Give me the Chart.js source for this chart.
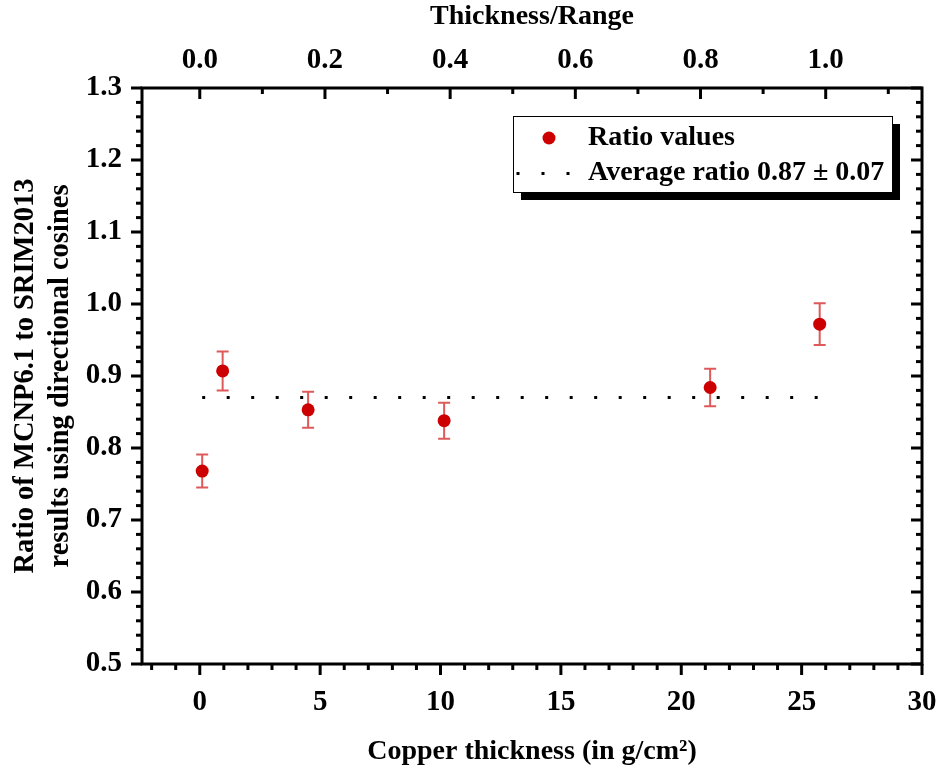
<!DOCTYPE html>
<html>
<head>
<meta charset="utf-8">
<script src="https://cdn.jsdelivr.net/npm/chart.js@4.4.1/dist/chart.umd.min.js"></script>
<style>
  html, body { margin: 0; padding: 0; background: #fff; }
  canvas { display: block; }
</style>
</head>
<body>
<canvas id="chart" width="942" height="776"></canvas>
<script>
// ==================== DATOS ====================
const thickness = [0.1, 0.95, 4.5, 10.15, 21.2, 25.75];     // g/cm2
const ratio     = [0.768, 0.907, 0.853, 0.838, 0.884, 0.972];
const ratioErr  = [0.023, 0.027, 0.025, 0.025, 0.026, 0.029];

const avgRatio = 0.87;
const avgRange = [0.1, 25.7];          // extremos de la linea punteada

const rangeCu = 26;                    // g/cm2 que corresponden a Thickness/Range = 1
const xTicks = [0, 5, 10, 15, 20, 25, 30];
const yTicks = [0.5, 0.6, 0.7, 0.8, 0.9, 1.0, 1.1, 1.2, 1.3];
const topTicks = [0.0, 0.2, 0.4, 0.6, 0.8, 1.0];

const xMin = -2.4, xMax = 30;
const yMin = 0.5, yMax = 1.3;

const labelRatio = 'Ratio values';
const labelAvg = 'Average ratio 0.87 \u00b1 0.07';

// ==================== ESTILO ====================
const FONT = 'Liberation Serif';
const RED = '#cc0000';
const fontTick = { family: FONT, size: 29, weight: 'bold', lineHeight: 1.2 };
const fontTitle = { family: FONT, size: 28, weight: 'bold', lineHeight: 1.2 };

// ==================== PLUGINS ====================
function tickValues(min, max, step) {
  const out = [];
  for (let k = Math.ceil(min / step - 1e-9); k <= Math.floor(max / step + 1e-9); k++) out.push(k * step);
  return out;
}

const frameTicks = {
  id: 'frameTicks',
  afterDraw(chart) {
    const { ctx, chartArea: a, scales } = chart;
    ctx.save();
    ctx.strokeStyle = '#000';
    ctx.lineWidth = 3;
    ctx.lineCap = 'butt';

    const seg = (x1, y1, x2, y2) => { ctx.beginPath(); ctx.moveTo(x1, y1); ctx.lineTo(x2, y2); ctx.stroke(); };

    // abajo (hacia fuera)
    tickValues(xMin, xMax, 1).forEach(v => {
      const px = scales.x.getPixelForValue(v);
      const len = Math.abs(v % 5) < 1e-6 ? 11 : 6;
      seg(px, a.bottom, px, a.bottom + len);
    });
    // arriba (hacia dentro)
    tickValues(xMin / rangeCu, xMax / rangeCu, 0.1).forEach(v => {
      const px = scales.x2.getPixelForValue(v);
      const major = Math.abs(Math.round(v * 10) % 2) === 0;
      seg(px, a.top, px, a.top + (major ? 11 : 6));
    });
    // izquierda (fuera) y derecha (dentro)
    tickValues(yMin, yMax, 0.02).forEach(v => {
      const py = scales.y.getPixelForValue(v);
      const major = Math.abs(Math.round(v * 50) % 5) === 0;
      const len = major ? 11 : 6;
      seg(a.left - len, py, a.left, py);
      seg(a.right - len, py, a.right, py);
    });

    ctx.strokeRect(a.left, a.top, a.right - a.left, a.bottom - a.top);
    ctx.restore();
  }
};

const errorBars = {
  id: 'errorBars',
  beforeDatasetsDraw(chart) {
    const { ctx, scales: { x, y } } = chart;
    ctx.save();
    ctx.strokeStyle = 'rgba(204,0,0,0.65)';
    ctx.lineWidth = 2;
    thickness.forEach((t, i) => {
      const px = x.getPixelForValue(t);
      const top = y.getPixelForValue(ratio[i] + ratioErr[i]);
      const bot = y.getPixelForValue(ratio[i] - ratioErr[i]);
      ctx.beginPath();
      ctx.moveTo(px, top); ctx.lineTo(px, bot);
      ctx.moveTo(px - 6, top); ctx.lineTo(px + 6, top);
      ctx.moveTo(px - 6, bot); ctx.lineTo(px + 6, bot);
      ctx.stroke();
    });
    ctx.restore();
  }
};

const boxLegend = {
  id: 'boxLegend',
  afterDraw(chart) {
    const { ctx, chartArea: a } = chart;
    const x0 = a.right - 409, y0 = a.top + 28, w = 379, h = 76;
    ctx.save();
    ctx.fillStyle = '#000';
    ctx.fillRect(x0 + 8, y0 + 8, w, h);
    ctx.fillStyle = '#fff';
    ctx.fillRect(x0, y0, w, h);
    ctx.strokeStyle = '#000';
    ctx.lineWidth = 1;
    ctx.strokeRect(x0 + 0.5, y0 + 0.5, w, h);

    // marcador
    ctx.fillStyle = RED;
    ctx.beginPath();
    ctx.arc(x0 + 36, y0 + 22, 6.5, 0, Math.PI * 2);
    ctx.fill();
    // muestra punteada
    ctx.fillStyle = '#000';
    [5, 30, 55].forEach(dx => ctx.fillRect(x0 + dx - 1.5, y0 + 56, 3, 3));

    ctx.font = `bold 28px "${FONT}"`;
    ctx.textBaseline = 'middle';
    ctx.fillText(chart.data.datasets[0].label, x0 + 75, y0 + 22);
    ctx.fillText(chart.data.datasets[1].label, x0 + 75, y0 + 57);
    ctx.restore();
  }
};

// ==================== GRAFICO ====================
new Chart(document.getElementById('chart'), {
  type: 'scatter',
  data: {
    datasets: [
      {
        label: labelRatio,
        data: thickness.map((t, i) => ({ x: t, y: ratio[i] })),
        backgroundColor: RED,
        borderColor: RED,
        pointRadius: 6.5,
        pointHoverRadius: 6.5,
        borderWidth: 0
      },
      {
        label: labelAvg,
        type: 'line',
        data: avgRange.map(t => ({ x: t, y: avgRatio })),
        borderColor: '#000',
        borderWidth: 3,
        borderDash: [3, 21.5],
        pointRadius: 0,
        fill: false
      }
    ]
  },
  options: {
    responsive: false,
    animation: false,
    events: [],
    layout: { padding: { left: 0, right: 20, top: 0, bottom: 0 } },
    plugins: { legend: { display: false }, tooltip: { enabled: false } },
    scales: {
      x: {
        type: 'linear', position: 'bottom', min: xMin, max: xMax,
        grid: { display: false, drawTicks: false }, border: { display: false },
        ticks: { font: fontTick, color: '#000', padding: 21, maxRotation: 0 },
        afterBuildTicks: s => { s.ticks = xTicks.map(v => ({ value: v })); },
        afterFit: s => { s.height = 112; s.paddingLeft = 0; s.paddingRight = 0; },
        title: { display: true, text: ['Copper thickness (in g/cm\u00b2)'], font: fontTitle, color: '#000', padding: { top: 0, bottom: 7 } }
      },
      x2: {
        type: 'linear', position: 'top', min: xMin / rangeCu, max: xMax / rangeCu,
        grid: { display: false, drawTicks: false }, border: { display: false },
        ticks: { font: fontTick, color: '#000', padding: 10, maxRotation: 0, callback: v => v.toFixed(1) },
        afterBuildTicks: s => { s.ticks = topTicks.map(v => ({ value: v })); },
        afterFit: s => { s.height = 88; s.paddingLeft = 0; s.paddingRight = 0; },
        title: { display: true, text: 'Thickness/Range', font: fontTitle, color: '#000', padding: { top: 0, bottom: 0 } }
      },
      y: {
        type: 'linear', position: 'left', min: yMin, max: yMax,
        grid: { display: false, drawTicks: false }, border: { display: false },
        ticks: { font: fontTick, color: '#000', padding: 20, callback: v => v.toFixed(1) },
        afterBuildTicks: s => { s.ticks = yTicks.map(v => ({ value: v })); },
        afterFit: s => { s.width = 142; s.paddingTop = 0; s.paddingBottom = 0; },
        title: {
          display: true,
          text: ['Ratio of MCNP6.1 to SRIM2013', 'results using directional cosines'],
          font: { family: FONT, size: 28.5, weight: 'bold', lineHeight: 1.22 },
          color: '#000', padding: { top: 8, bottom: 0 }
        }
      }
    }
  },
  plugins: [errorBars, frameTicks, boxLegend]
});
</script>
</body>
</html>
